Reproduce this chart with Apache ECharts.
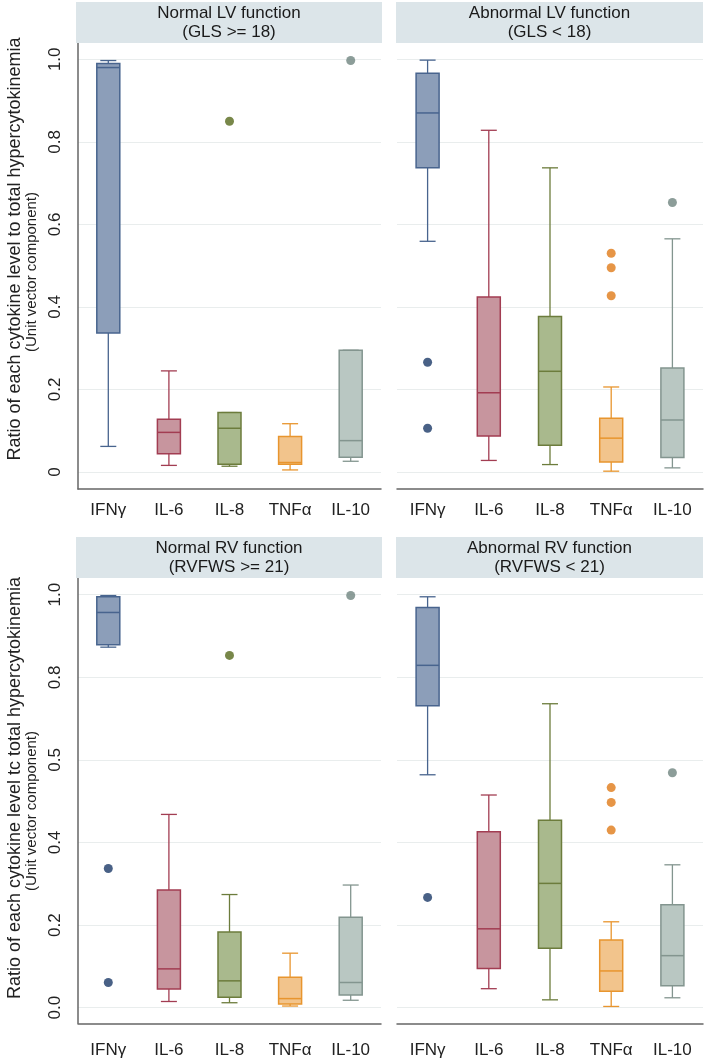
<!DOCTYPE html>
<html><head><meta charset="utf-8">
<script src="https://cdn.jsdelivr.net/npm/echarts@6/dist/echarts.min.js"></script>
<style>html,body{margin:0;padding:0;background:#fff}#c{width:709px;height:1064px}</style>
</head><body><div id="c"></div>
<script>
// ---------- data ----------
const categories = ['IFNγ', 'IL-6', 'IL-8', 'TNFα', 'IL-10'];
const tickValues = [0, 0.2, 0.4, 0.6, 0.8, 1.0];
const tickLabelsTop = ['0', '0.2', '0.4', '0.6', '0.8', '1.0'];
const tickLabelsBottom = ['0.0', '0.2', '0.4', '0.5', '0.8', '1.0'];

const panelTitles = [
  ['Normal LV function', '(GLS >= 18)'],
  ['Abnormal LV function', '(GLS < 18)'],
  ['Normal RV function', '(RVFWS >= 21)'],
  ['Abnormal RV function', '(RVFWS < 21)']
];
const yTitleTop = ['Ratio of each cytokine level to total hypercytokinemia', '(Unit vector component)'];
const yTitleBottom = ['Ratio of each cytokine level tc total hypercytokinemia', '(Unit vector component)'];

// [lower whisker, Q1, median, Q3, upper whisker] per cytokine
const lvNormalBoxes = [
  [0.062, 0.337, 0.980, 0.990, 0.997],
  [0.016, 0.044, 0.096, 0.128, 0.245],
  [0.014, 0.019, 0.106, 0.144, 0.144],
  [0.005, 0.019, 0.023, 0.086, 0.117],
  [0.026, 0.036, 0.076, 0.295, 0.295]
];
// [category index, value]
const lvNormalOutliers = [[2, 0.850], [4, 0.997]];

const lvAbnormalBoxes = [
  [0.559, 0.737, 0.870, 0.966, 0.998],
  [0.028, 0.087, 0.192, 0.424, 0.828],
  [0.018, 0.065, 0.244, 0.377, 0.737],
  [0.002, 0.024, 0.082, 0.130, 0.206],
  [0.010, 0.035, 0.126, 0.252, 0.565]
];
const lvAbnormalOutliers = [[0, 0.266], [0, 0.106], [3, 0.530], [3, 0.495], [3, 0.427], [4, 0.653]];

const rvNormalBoxes = [
  [0.873, 0.879, 0.957, 0.995, 0.998],
  [0.015, 0.045, 0.094, 0.285, 0.468],
  [0.012, 0.025, 0.065, 0.183, 0.274],
  [0.004, 0.009, 0.022, 0.074, 0.132],
  [0.018, 0.031, 0.061, 0.219, 0.297]
];
const rvNormalOutliers = [[0, 0.337], [0, 0.061], [2, 0.853], [4, 0.998]];

const rvAbnormalBoxes = [
  [0.564, 0.731, 0.829, 0.969, 0.995],
  [0.046, 0.095, 0.191, 0.426, 0.515],
  [0.019, 0.144, 0.301, 0.454, 0.736],
  [0.003, 0.040, 0.089, 0.164, 0.208],
  [0.024, 0.053, 0.126, 0.249, 0.346]
];
const rvAbnormalOutliers = [[0, 0.267], [3, 0.533], [3, 0.497], [3, 0.430], [4, 0.569]];

// ---------- styling ----------
const fills   = ['#8c9eb9', '#c7959e', '#a9b98d', '#f2c48c', '#b9c7c2'];
const strokes = ['#48648e', '#a23d52', '#6c7c3c', '#e8952e', '#83958f'];
const dotCols = ['#1c3a68', '#a23d52', '#56691c', '#e07a18', '#6f857f'];

const panels = [
  {boxes: lvNormalBoxes, outliers: lvNormalOutliers, grid: {left: 78, top: 43, width: 303, height: 446}, min: -0.0412, max: 1.0395, left: true, labels: tickLabelsTop, xMargin: 13},
  {boxes: lvAbnormalBoxes, outliers: lvAbnormalOutliers, grid: {left: 397, top: 43, width: 306, height: 446}, min: -0.0412, max: 1.0395, left: false, labels: tickLabelsTop, xMargin: 13},
  {boxes: rvNormalBoxes, outliers: rvNormalOutliers, grid: {left: 78, top: 577, width: 303, height: 446.3}, min: -0.0378, max: 1.0429, left: true, labels: tickLabelsBottom, xMargin: 19},
  {boxes: rvAbnormalBoxes, outliers: rvAbnormalOutliers, grid: {left: 397, top: 577, width: 306, height: 446.3}, min: -0.0378, max: 1.0429, left: false, labels: tickLabelsBottom, xMargin: 19}
];

function renderBox(params, api) {
  const i = api.value(0);
  const pl = api.coord([i, api.value(1)]);
  const p1 = api.coord([i, api.value(2)]);
  const pm = api.coord([i, api.value(3)]);
  const p3 = api.coord([i, api.value(4)]);
  const ph = api.coord([i, api.value(5)]);
  const x = pl[0], bw = 11.5, cw = 8;
  const ls = {stroke: strokes[i], lineWidth: 1.3};
  return {type: 'group', children: [
    {type: 'line', shape: {x1: x, y1: ph[1], x2: x, y2: p3[1]}, style: ls},
    {type: 'line', shape: {x1: x, y1: p1[1], x2: x, y2: pl[1]}, style: ls},
    {type: 'line', shape: {x1: x - cw, y1: ph[1], x2: x + cw, y2: ph[1]}, style: ls},
    {type: 'line', shape: {x1: x - cw, y1: pl[1], x2: x + cw, y2: pl[1]}, style: ls},
    {type: 'rect', shape: {x: x - bw, y: p3[1], width: 2 * bw, height: p1[1] - p3[1]}, style: {fill: fills[i], stroke: strokes[i], lineWidth: 1.5}},
    {type: 'line', shape: {x1: x - bw, y1: pm[1], x2: x + bw, y2: pm[1]}, style: {stroke: strokes[i], lineWidth: 1.5}}
  ]};
}

const option = {
  backgroundColor: '#fff',
  animation: false,
  grid: [], xAxis: [], yAxis: [], series: [], graphic: []
};

panels.forEach((p, g) => {
  option.grid.push(Object.assign({containLabel: false}, p.grid));
  option.xAxis.push({
    type: 'category', gridIndex: g, data: categories, boundaryGap: true,
    axisLine: {show: true, onZero: false, lineStyle: {color: '#666', width: 1.5}},
    axisTick: {show: false},
    axisLabel: {margin: p.xMargin, fontSize: 17, fontFamily: 'Liberation Sans Narrow, Liberation Sans, Arial', color: '#222'},
    splitLine: {show: false}
  });
  option.yAxis.push({
    type: 'value', gridIndex: g, min: p.min, max: p.max,
    axisLine: {show: p.left, onZero: false, lineStyle: {color: '#666', width: 1.5}},
    axisTick: {show: false, customValues: tickValues},
    axisLabel: {
      show: p.left, customValues: tickValues, rotate: 90, margin: 14,
      fontSize: 17, fontFamily: 'Liberation Sans Narrow, Liberation Sans, Arial', color: '#222',
      formatter: v => { const k = tickValues.findIndex(t => Math.abs(t - v) < 1e-6); return k >= 0 ? p.labels[k] : ''; }
    },
    splitLine: {show: true, lineStyle: {color: '#e9eded', width: 1.2}}
  });
  option.series.push({
    type: 'custom', xAxisIndex: g, yAxisIndex: g,
    renderItem: renderBox,
    encode: {x: 0, y: [1, 2, 3, 4, 5]},
    data: p.boxes.map((b, i) => [i].concat(b)),
    z: 3
  });
  option.series.push({
    type: 'scatter', xAxisIndex: g, yAxisIndex: g,
    symbol: 'circle', symbolSize: 9,
    data: p.outliers.map(o => ({value: o, itemStyle: {color: dotCols[o[0]]}})),
    z: 4
  });
  // header strip
  const hx = p.left ? 76 : 396, hw = p.left ? 306 : 307;
  const hy = g < 2 ? 2 : 537;
  option.graphic.push({type: 'rect', left: hx, top: hy, shape: {width: hw, height: 41}, style: {fill: '#dce5e9'}, z: 1});
  option.graphic.push({type: 'text', x: hx + hw / 2, y: hy + 20.5, z: 2,
    style: {text: panelTitles[g].join('\n'), font: '17px "Liberation Sans", Arial', fill: '#1a1a1a', align: 'center', verticalAlign: 'middle', lineHeight: 19}});
});

// y-axis titles
[[yTitleTop, 249, 272], [yTitleBottom, 788, 811]].forEach(([t, y1, y2]) => {
  option.graphic.push({type: 'text', x: 15, y: y1, rotation: Math.PI / 2,
    style: {text: t[0], font: '18px "Liberation Sans", Arial', fill: '#222', align: 'center', verticalAlign: 'middle'}});
  option.graphic.push({type: 'text', x: 32, y: y2, rotation: Math.PI / 2,
    style: {text: t[1], font: '15px "Liberation Sans", Arial', fill: '#222', align: 'center', verticalAlign: 'middle'}});
});

const chart = echarts.init(document.getElementById('c'), null, {renderer: 'canvas'});
chart.setOption(option);
</script></body></html>
